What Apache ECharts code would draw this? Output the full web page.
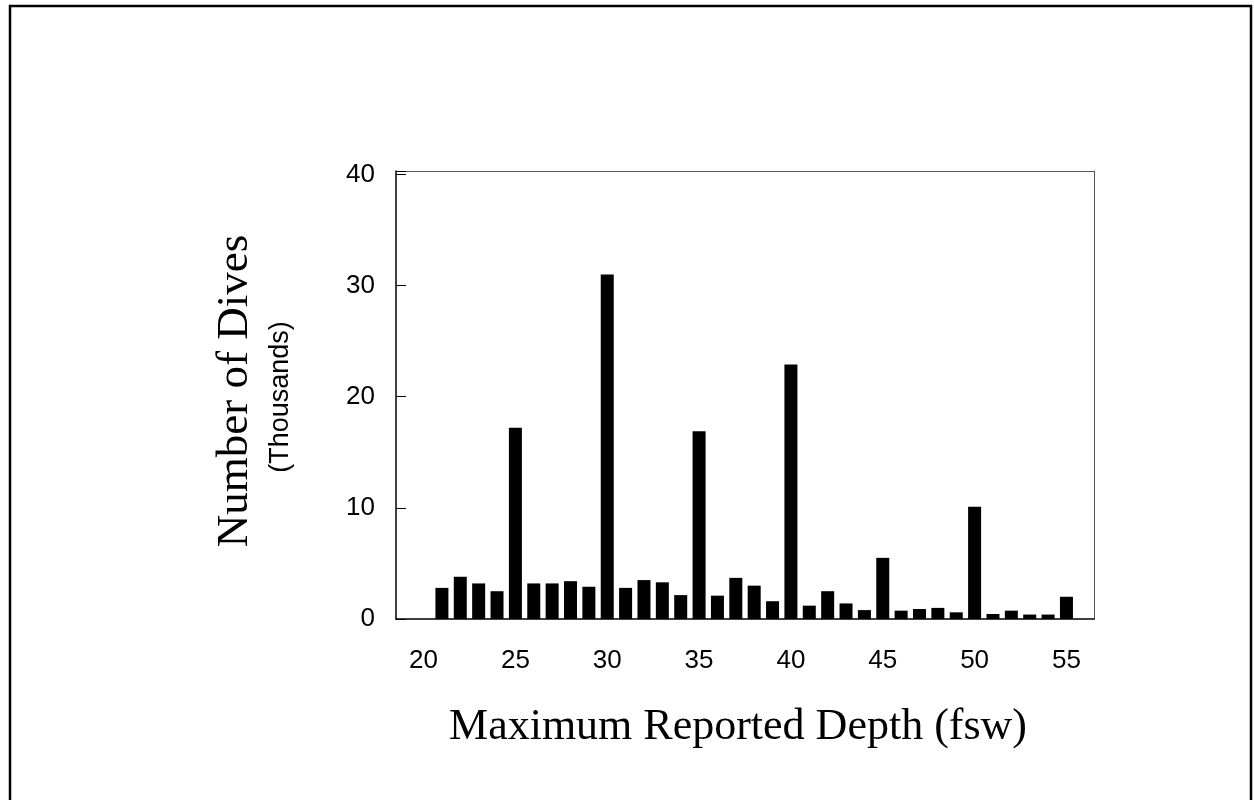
<!DOCTYPE html>
<html>
<head>
<meta charset="utf-8">
<script src="https://cdn.jsdelivr.net/npm/echarts@6/dist/echarts.min.js"></script>
<style>
  html, body { margin: 0; padding: 0; background: #fff; }
  #chart { width: 1254px; height: 800px; }
</style>
</head>
<body>
<div id="chart"></div>
<script>
// depth categories (fsw), one band per foot from 19 to 56
const depths = [19, 20, 21, 22, 23, 24, 25, 26, 27, 28, 29, 30, 31, 32, 33, 34, 35, 36, 37,
    38, 39, 40, 41, 42, 43, 44, 45, 46, 47, 48, 49, 50, 51, 52, 53, 54, 55, 56];

// number of dives (thousands); null = no bar
const dives = [null, null, 2.8, 3.8, 3.2, 2.5, 17.2, 3.2, 3.2, 3.4, 2.9, 31.0, 2.8, 3.5, 3.3, 2.15, 16.9, 2.1, 3.7,
    3.0, 1.6, 22.9, 1.2, 2.5, 1.4, 0.8, 5.5, 0.75, 0.9, 1.0, 0.6, 10.1, 0.45, 0.75, 0.4, 0.4, 2.0, null];

const yTicks = [0, 10, 20, 30, 40];

const getOption = () => {
    return {
        animation: false,
        backgroundColor: '#fff',
        grid: { left: 396, right: 160, top: 171, bottom: 181 },
        xAxis: [
            {
                type: 'category',
                data: depths,
                boundaryGap: true,
                axisLine: { onZero: false, lineStyle: { color: '#000', width: 1.5 } },
                axisTick: { show: false },
                axisLabel: {
                    interval: (i, v) => Number(v) % 5 === 0,
                    margin: 29,
                    fontFamily: 'Liberation Sans',
                    fontSize: 26,
                    color: '#000'
                }
            },
            {
                type: 'category',
                data: depths,
                position: 'top',
                axisLine: { show: true, onZero: false, lineStyle: { color: '#555', width: 1 } },
                axisTick: { show: false },
                axisLabel: { show: false }
            }
        ],
        yAxis: [
            {
                type: 'value',
                min: yTicks[0],
                max: 40.3,
                interval: 10,
                axisLine: { show: true, onZero: false, lineStyle: { color: '#000', width: 1.5 } },
                axisTick: { show: true, inside: true, length: 10, lineStyle: { color: '#000' } },
                splitLine: { show: false },
                axisLabel: {
                    margin: 21,
                    fontFamily: 'Liberation Sans',
                    fontSize: 26,
                    color: '#000',
                    formatter: (v) => (yTicks.indexOf(v) >= 0 ? String(v) : '')
                }
            },
            {
                type: 'value',
                min: 0,
                max: 40.3,
                position: 'right',
                axisLine: { show: true, onZero: false, lineStyle: { color: '#555', width: 1 } },
                axisTick: { show: false },
                axisLabel: { show: false },
                splitLine: { show: false }
            }
        ],
        series: [
            {
                type: 'bar',
                data: dives,
                barWidth: 13,
                itemStyle: { color: '#000' }
            }
        ],
        graphic: [
            {
                type: 'rect',
                shape: { x: 10, y: 6, width: 1241, height: 830 },
                style: { fill: null, stroke: '#000', lineWidth: 2.5 },
                silent: true
            },
            {
                type: 'text',
                x: 235,
                y: 391,
                rotation: Math.PI / 2,
                style: {
                    text: 'Number of Dives',
                    font: '45px "Liberation Serif"',
                    fill: '#000',
                    textAlign: 'center',
                    textVerticalAlign: 'middle'
                }
            },
            {
                type: 'text',
                x: 281,
                y: 397,
                rotation: Math.PI / 2,
                style: {
                    text: '(Thousands)',
                    font: '27px "Liberation Sans"',
                    fill: '#000',
                    textAlign: 'center',
                    textVerticalAlign: 'middle'
                }
            },
            {
                type: 'text',
                x: 738,
                y: 727,
                style: {
                    text: 'Maximum Reported Depth (fsw)',
                    font: '44px "Liberation Serif"',
                    fill: '#000',
                    textAlign: 'center',
                    textVerticalAlign: 'middle'
                }
            }
        ]
    };
};

const initChart = () => {
    const chart = echarts.init(document.getElementById('chart'));
    chart.setOption(getOption());
};

window.addEventListener('load', () => {
    initChart();
});
</script>
</body>
</html>
